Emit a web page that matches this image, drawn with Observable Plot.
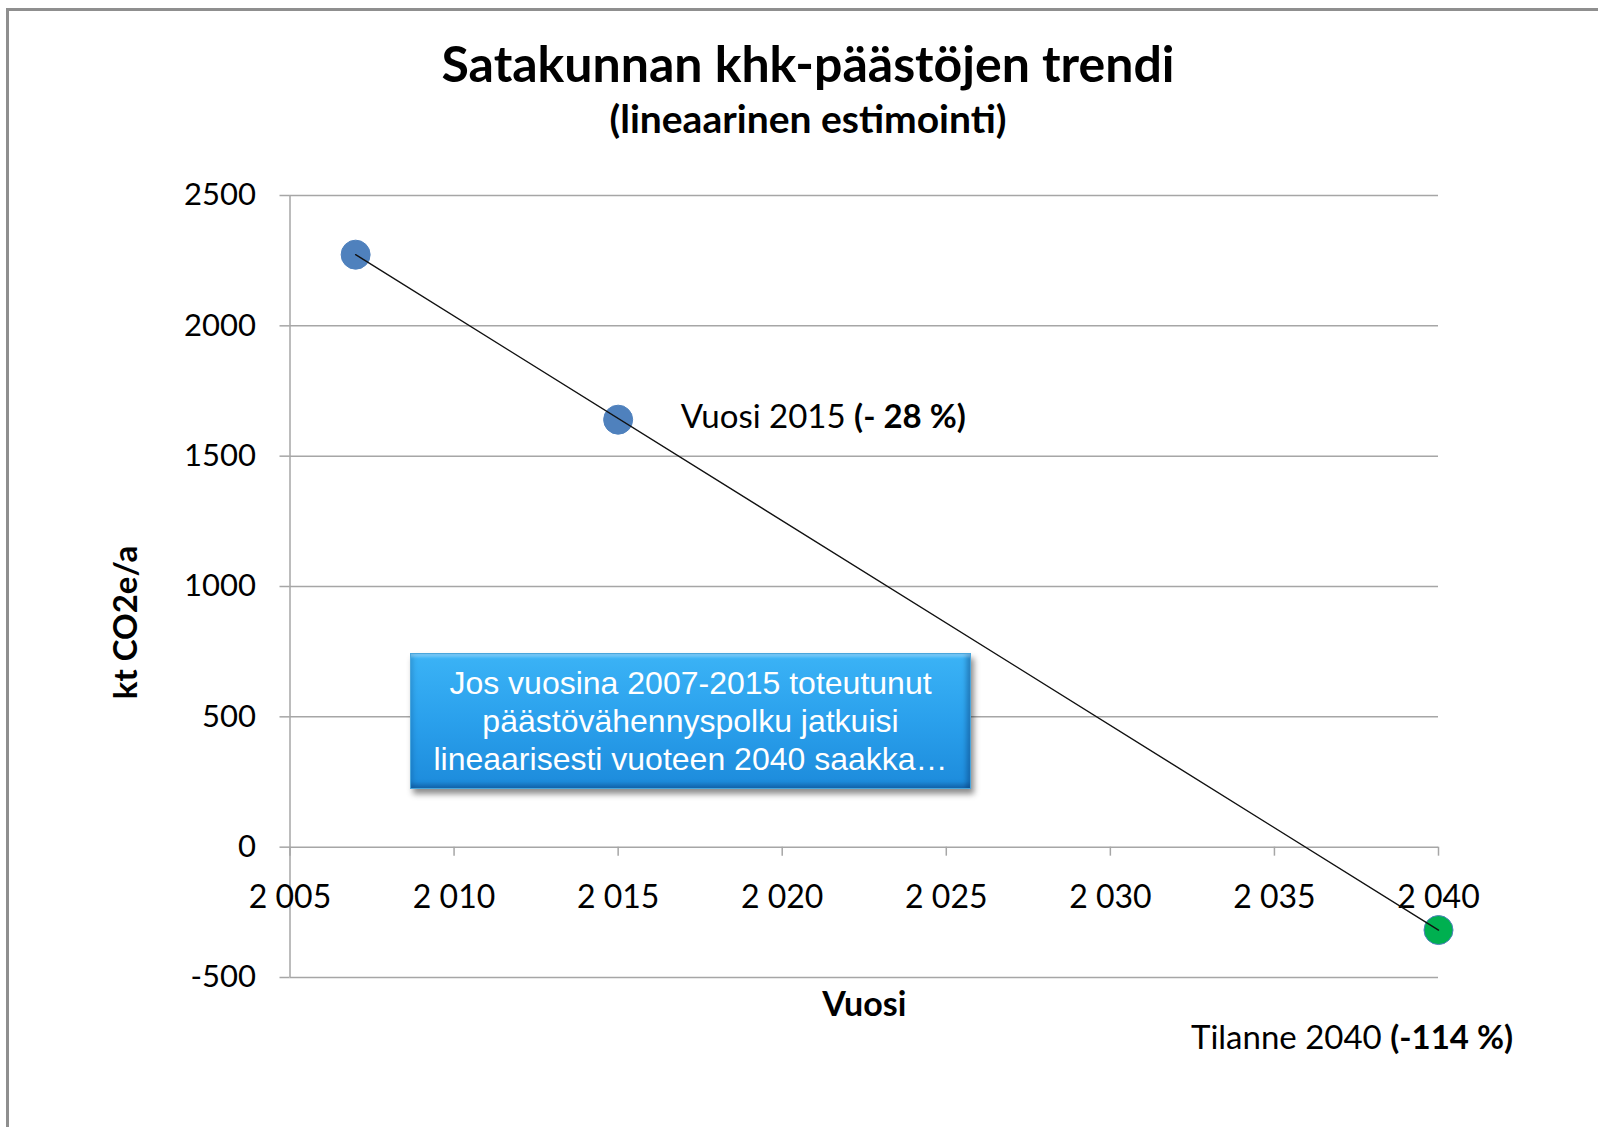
<!DOCTYPE html>
<html>
<head>
<meta charset="utf-8">
<script src="https://cdn.jsdelivr.net/npm/d3@7"></script>
<script src="https://cdn.jsdelivr.net/npm/@observablehq/plot@0.6"></script>
<style>
  body { margin: 0; background: #fff; }
  #wrap { position: relative; width: 1598px; height: 1127px; overflow: hidden; font-family: Lato, "Open Sans", sans-serif; color: #000; }
  #frame { position: absolute; left: 6px; top: 8px; width: 1700px; height: 1300px; border-left: 3px solid #8f8f8f; border-top: 3px solid #8f8f8f; }
  .title { position: absolute; left: 0; width: 1616px; text-align: center; font-weight: 700; line-height: 1; white-space: nowrap; }
  #t1 { top: 38px; font-size: 50px; }
  #t2 { top: 99px; font-size: 39px; }
  #chart { position: absolute; left: 0; top: 150px; }
  .ann { position: absolute; white-space: nowrap; font-size: 33px; line-height: 1; }
  #box { position: absolute; left: 410px; top: 653px; width: 561px; height: 136px; box-sizing: border-box;
         background: linear-gradient(#3bb3f6, #2aa0ec 50%, #1d8bdb);
         border: 1px solid #4aa6dc;
         box-shadow: 3px 5px 6px rgba(0,0,0,0.45),
                     inset 0 5px 3px -2px rgba(255,255,255,0.30),
                     inset -6px 0 4px -2px rgba(0,30,80,0.28),
                     inset 0 -6px 4px -2px rgba(0,30,80,0.30),
                     inset 5px 0 4px -2px rgba(0,30,80,0.12);
         color: #fff; font-family: "Liberation Sans", Arial, sans-serif; font-size: 32px; line-height: 38px; text-align: center; padding-top: 10px; }
</style>
</head>
<body>
<div id="wrap">
  <div id="frame"></div>
  <div class="title" id="t1"></div>
  <div class="title" id="t2"></div>
  <div id="chart"></div>
</div>
<script>
// ---- data ----
const years = [2007, 2015, 2040];
const emissions = [2273, 1640, -318];
const pointKind = ["toteutunut", "toteutunut", "ennuste"];
const trendYears = [2007, 2040];
const trendValues = [2273, -318];
const xTicks = [2005, 2010, 2015, 2020, 2025, 2030, 2035, 2040];
const xTickLabels = ["2 005", "2 010", "2 015", "2 020", "2 025", "2 030", "2 035", "2 040"];
const yTicks = [-500, 0, 500, 1000, 1500, 2000, 2500];
const titleText = "Satakunnan khk-päästöjen trendi";
const subtitleText = "(lineaarinen estimointi)";
const xLabel = "Vuosi";
const yLabel = "kt CO2e/a";
const boxLines = ["Jos vuosina 2007-2015 toteutunut", "päästövähennyspolku jatkuisi", "lineaarisesti vuoteen 2040 saakka…"];
const label2015 = ["Vuosi 2015 ", "(- 28 %)"];
const label2040 = ["Tilanne 2040 ", "(-114 %)"];

document.getElementById("t1").textContent = titleText;
document.getElementById("t2").textContent = subtitleText;

const points = years.map((y, i) => ({year: y, value: emissions[i], kind: pointKind[i]}));
const trend = trendYears.map((y, i) => ({year: y, value: trendValues[i]}));
const xt = xTicks.map((t, i) => ({t, label: xTickLabels[i]}));

const gridGray = "#a6a6a6";
const fmtY = d => d < 0 ? "-" + Math.abs(d) : String(d);

const plot = Plot.plot({
  width: 1598,
  height: 977,
  marginLeft: 289.5,
  marginRight: 160,
  marginTop: 45,
  marginBottom: 150,
  style: {fontFamily: "Lato, 'Open Sans', sans-serif", color: "#000", background: "transparent", overflow: "visible"},
  x: {domain: [2005, 2040], axis: null},
  y: {domain: [-500, 2500]},
  marks: [
    Plot.gridY(yTicks, {stroke: gridGray, strokeOpacity: 1, strokeWidth: 1.5}),
    Plot.axisY(yTicks, {tickSize: 10, tickPadding: 24, stroke: gridGray, strokeWidth: 1.5, fontSize: 31, tickFormat: fmtY, label: null}),
    Plot.ruleX([2005], {stroke: gridGray, strokeWidth: 1.5}),
    Plot.ruleX(xt, {x: "t", y1: () => 0, y2: () => 0, insetBottom: -9, stroke: gridGray, strokeWidth: 1.5}),
    Plot.text(xt, {x: "t", y: () => 0, text: "label", dy: 51, lineAnchor: "middle", fontSize: 32}),
    Plot.text([xLabel], {frameAnchor: "bottom", dy: 28, lineAnchor: "middle", fontSize: 34, fontWeight: 700}),
    Plot.text([yLabel], {frameAnchor: "left", textAnchor: "middle", lineAnchor: "middle", dx: -164, dy: 36, rotate: -90, fontSize: 33, fontWeight: 700}),
    Plot.dot(points, {x: "year", y: "value", r: 14.5, fill: d => d.kind === "ennuste" ? "#00B050" : "#4F81BD", stroke: "#4F81BD", strokeWidth: 1}),
    Plot.line(trend, {x: "year", y: "value", stroke: "#111", strokeWidth: 1.4})
  ]
});
document.getElementById("chart").appendChild(plot);

// annotations positioned from the plot's scales
const sx = plot.scale("x"), sy = plot.scale("y");
const top0 = 150;
function ann(parts, x, y) {
  const d = document.createElement("div");
  d.className = "ann";
  d.innerHTML = parts[0] + "<b>" + parts[1] + "</b>";
  d.style.left = x + "px";
  d.style.top = y + "px";
  document.getElementById("wrap").appendChild(d);
  return d;
}
const p2015 = points[1], p2040 = points[2];
const a1 = ann(label2015, sx.apply(p2015.year) + 63, top0 + sy.apply(p2015.value) - 20);
const a2 = ann(label2040, 0, top0 + sy.apply(p2040.value) + 90);
a2.style.left = (sx.apply(p2040.year) - 86 - a2.offsetWidth / 2) + "px";

const box = document.createElement("div");
box.id = "box";
box.innerHTML = boxLines.join("<br>");
document.getElementById("wrap").appendChild(box);
</script>
</body>
</html>
